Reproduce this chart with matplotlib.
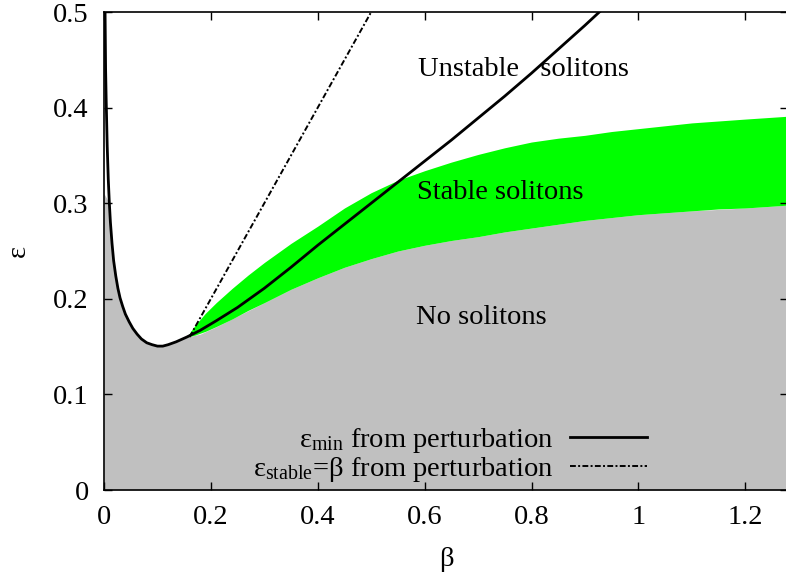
import matplotlib
matplotlib.use('Agg')
import matplotlib.pyplot as plt
from matplotlib.ticker import FormatStrFormatter

plt.rcParams['font.family'] = ['Liberation Serif', 'DejaVu Serif']
plt.rcParams['mathtext.fontset'] = 'custom'
plt.rcParams['mathtext.rm'] = 'Liberation Serif'
plt.rcParams['mathtext.it'] = 'Liberation Serif:italic'
plt.rcParams['mathtext.default'] = 'rm'

FS = 20.5

# epsilon_min from perturbation (solid curve)
beta_min = [0.002, 0.0025, 0.003, 0.004, 0.005, 0.006, 0.008, 0.010, 0.012, 0.015,
            0.018, 0.022, 0.026, 0.03, 0.035, 0.04, 0.047, 0.054, 0.062, 0.07,
            0.08, 0.09, 0.1, 0.11, 0.12, 0.135, 0.155, 0.18, 0.21, 0.25,
            0.3, 0.35, 0.4, 0.45, 0.5, 0.55, 0.6, 0.65, 0.7, 0.75,
            0.8, 0.85, 0.9, 0.927]
eps_min = [0.50, 0.47, 0.44, 0.41, 0.385, 0.36, 0.325, 0.30, 0.28, 0.258,
           0.24, 0.224, 0.211, 0.201, 0.192, 0.184, 0.176, 0.169, 0.163, 0.158,
           0.154, 0.152, 0.1505, 0.1505, 0.152, 0.155, 0.16, 0.167, 0.177, 0.191,
           0.211, 0.233, 0.256, 0.278, 0.300, 0.322, 0.344, 0.366, 0.389, 0.412,
           0.436, 0.461, 0.486, 0.50]

# epsilon_stable = beta (dash-dot)
beta_stab = [0.16, 0.5]

# upper edge of the no-soliton region (grey)
beta_none = [0.0, 0.010, 0.012, 0.015, 0.018, 0.022, 0.026, 0.03, 0.035, 0.04,
             0.047, 0.054, 0.062, 0.07, 0.08, 0.09, 0.1, 0.11, 0.12, 0.135,
             0.155, 0.18, 0.211, 0.25, 0.3, 0.35, 0.4, 0.45, 0.5, 0.55,
             0.6, 0.65, 0.7, 0.75, 0.8, 0.85, 0.9, 0.95, 1.0, 1.1,
             1.2, 1.28]
eps_none = [0.31, 0.30, 0.28, 0.258, 0.24, 0.224, 0.211, 0.201, 0.192, 0.184,
            0.176, 0.169, 0.163, 0.158, 0.154, 0.152, 0.1505, 0.1505, 0.152, 0.155,
            0.16, 0.163, 0.171, 0.182, 0.196, 0.210, 0.222, 0.233, 0.242, 0.250,
            0.256, 0.261, 0.265, 0.270, 0.274, 0.278, 0.282, 0.285, 0.288, 0.292,
            0.295, 0.298]

# stable soliton band (green)
beta_green = [0.155, 0.17, 0.19, 0.21, 0.24, 0.27, 0.30, 0.35, 0.40, 0.45,
              0.50, 0.55, 0.60, 0.65, 0.70, 0.75, 0.80, 0.85, 0.90, 0.95,
              1.0, 1.05, 1.1, 1.15, 1.2, 1.28]
eps_green_lo = [0.16, 0.162, 0.166, 0.171, 0.179, 0.188, 0.196, 0.210, 0.222, 0.233,
                0.242, 0.250, 0.256, 0.261, 0.265, 0.270, 0.274, 0.278, 0.282, 0.285,
                0.288, 0.290, 0.292, 0.294, 0.295, 0.298]
eps_green_hi = [0.16, 0.172, 0.185, 0.196, 0.211, 0.225, 0.238, 0.258, 0.276, 0.295,
                0.311, 0.324, 0.334, 0.343, 0.351, 0.358, 0.364, 0.368, 0.371, 0.375,
                0.378, 0.381, 0.384, 0.386, 0.388, 0.391]


def main():
    fig = plt.figure(figsize=(7.86, 5.8), dpi=100)
    ax = fig.add_axes([104 / 786, 90 / 580, 684 / 786, 478 / 580])

    ax.fill_between(beta_none, 0, eps_none, color='#c0c0c0', lw=0, zorder=1)
    ax.fill_between(beta_green, eps_green_lo, eps_green_hi, color='#00ff00', lw=0, zorder=1)

    ax.plot(beta_min, eps_min, color='black', lw=2.0, zorder=3,
            label=r'$\varepsilon_{\rm min}$ from perturbation')
    ax.plot(beta_stab, beta_stab, color='black', lw=1.4, zorder=3,
            linestyle=(0, (3, 1.2, 1, 1.2)),
            label=r'$\varepsilon_{\rm stable}$=β from perturbation')

    ax.text(0.785, 0.44, 'Unstable   solitons', fontsize=FS, ha='center', va='center')
    ax.text(0.742, 0.311, 'Stable solitons', fontsize=FS, ha='center', va='center')
    ax.text(0.707, 0.18, 'No solitons', fontsize=FS, ha='center', va='center')

    ax.set_xlim(0, 1.28)
    ax.set_ylim(0, 0.5)
    ax.set_xticks([0, 0.2, 0.4, 0.6, 0.8, 1.0, 1.2])
    ax.set_yticks([0, 0.1, 0.2, 0.3, 0.4, 0.5])
    ax.xaxis.set_major_formatter(FormatStrFormatter('%g'))
    ax.yaxis.set_major_formatter(FormatStrFormatter('%g'))
    ax.tick_params(direction='in', top=True, right=True, length=6, width=1,
                   labelsize=FS, pad=11)
    for sp in ax.spines.values():
        sp.set_linewidth(1.2)

    ax.set_xlabel('β', fontsize=FS, labelpad=12)
    ax.set_ylabel('ε', fontsize=FS, labelpad=16)

    ax.legend(loc='lower right', bbox_to_anchor=((647 - 104) / 684, 0.012),
              frameon=False, markerfirst=False, fontsize=FS, handlelength=2.7,
              handletextpad=0.6, labelspacing=0.0, borderpad=0, borderaxespad=0)

    fig.savefig('out.png', dpi=100)


if __name__ == '__main__':
    main()
